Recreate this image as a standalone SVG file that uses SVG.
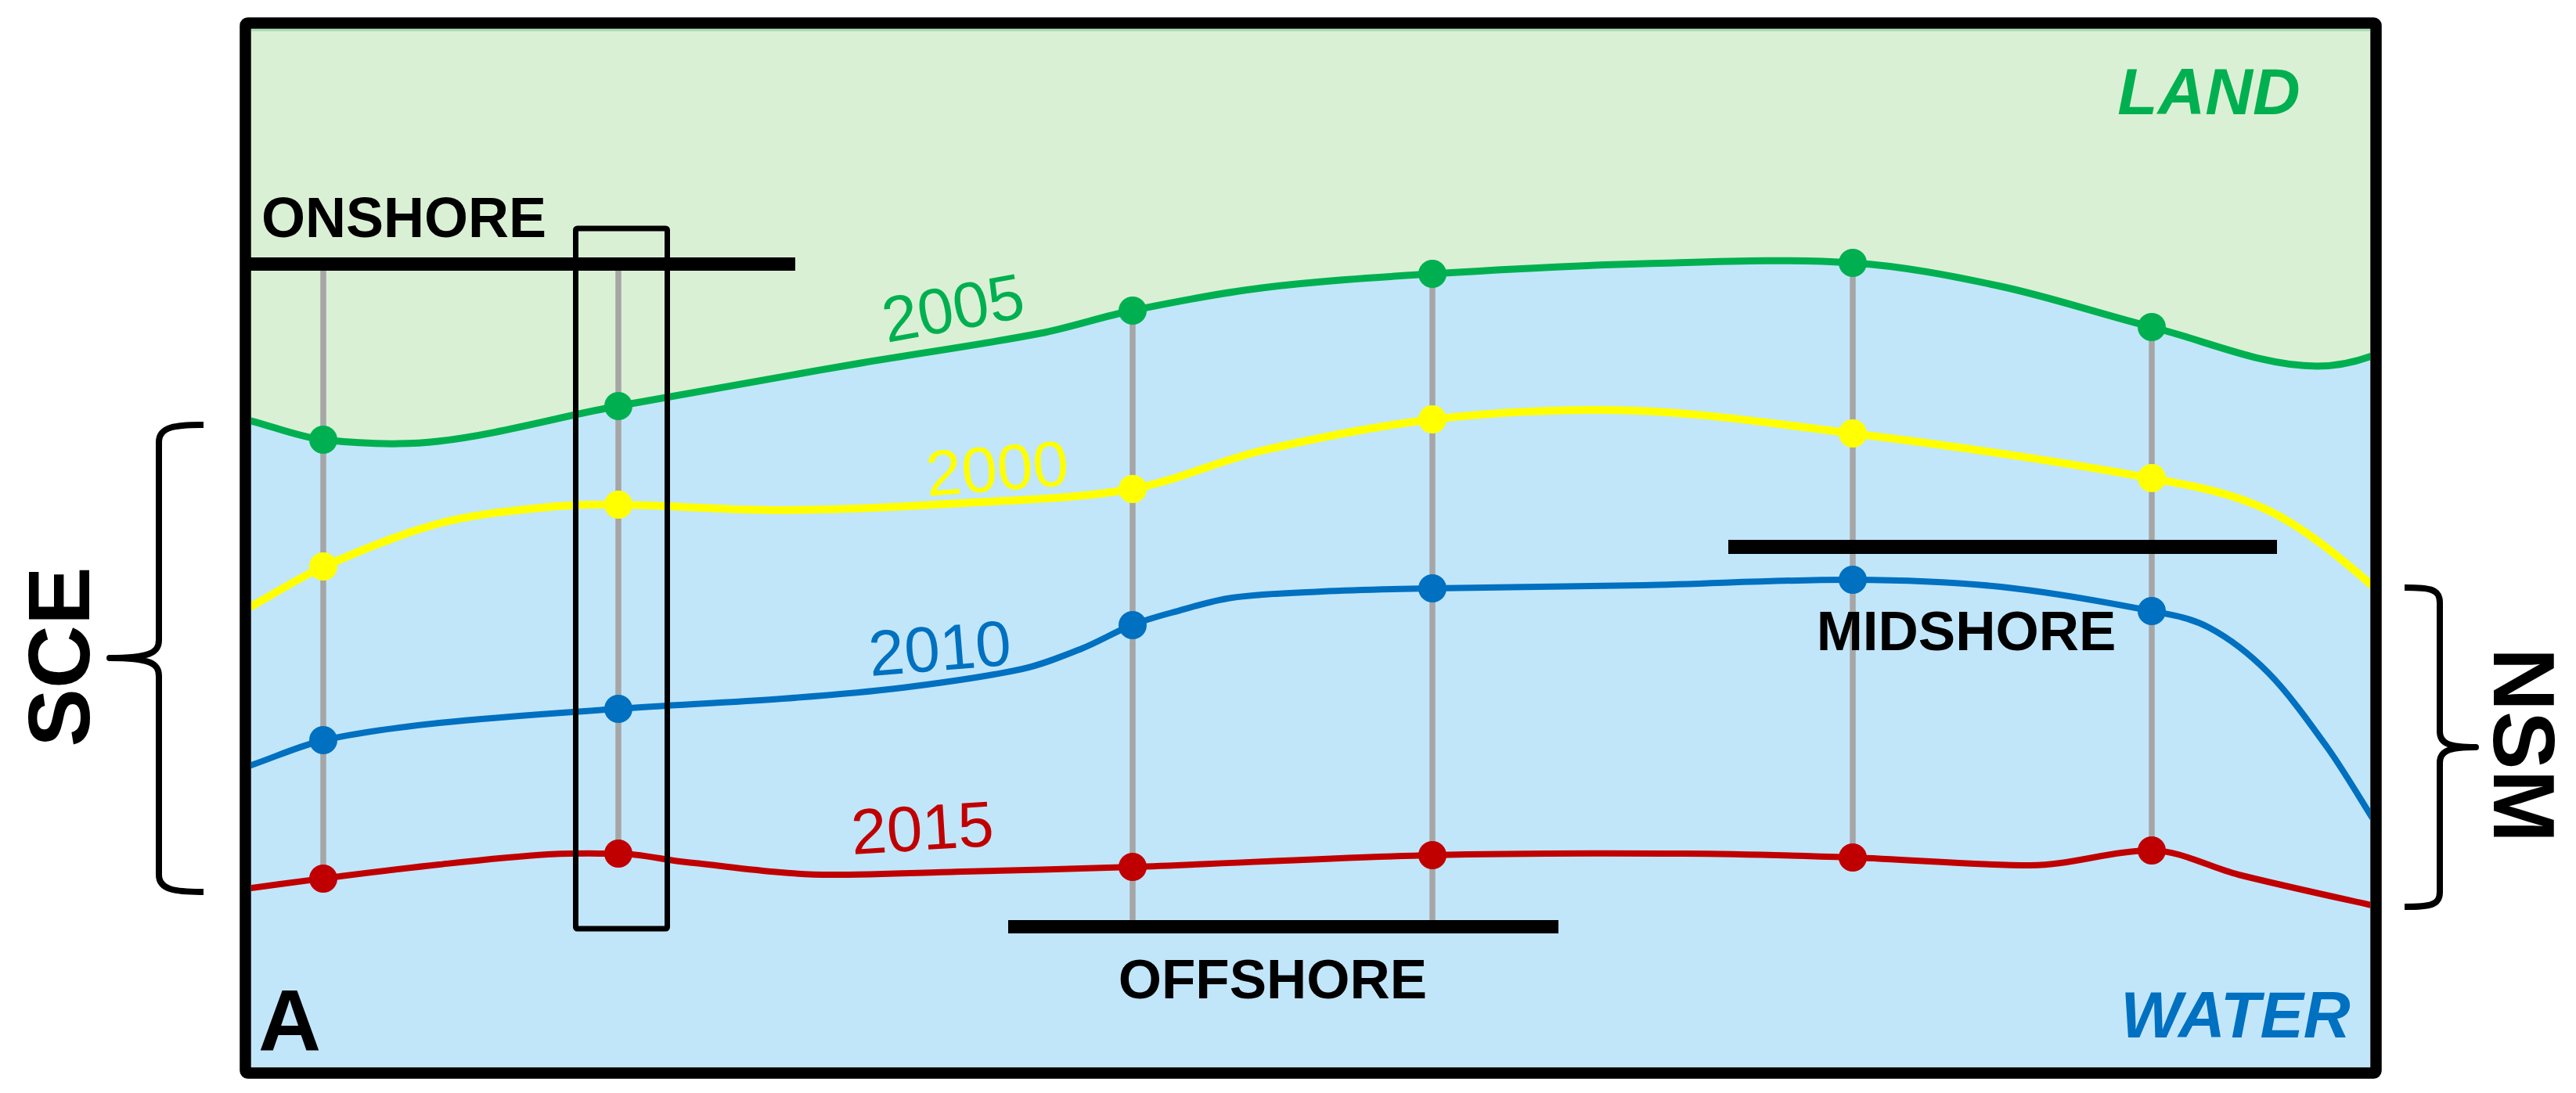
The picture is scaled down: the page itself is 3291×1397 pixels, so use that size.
<svg xmlns="http://www.w3.org/2000/svg" width="3291" height="1397" viewBox="0 0 3291 1397">
<style>
.lbl{font-family:"Liberation Sans",Arial,sans-serif;font-weight:bold;fill:#000}
.yr{font-family:"Liberation Sans",Arial,sans-serif;font-size:82px}
.curve{fill:none;stroke-linecap:round;stroke-linejoin:round}
.grey{stroke:#A6A6A6;stroke-width:7.5;fill:none}
.brace{fill:none;stroke:#000;stroke-width:8;stroke-linecap:butt;stroke-linejoin:round}
.g{fill:#00B050}.y{fill:#FFFF00}.b{fill:#0070C0}.r{fill:#C00000}
</style>
<defs>
<clipPath id="inner"><rect x="321" y="37" width="2707" height="1327"/></clipPath>
</defs>
<rect width="3291" height="1397" fill="#FFFFFF"/>
<g id="background" clip-path="url(#inner)">
<rect x="306" y="22" width="2736" height="1357" fill="#C1E6FA"/>
<path id="land" fill="#DAF0D5" d="M321,538 C351.7,546 382.3,558.7 413,562 C462,567.3 511,569.6 560,564 C636.3,555.3 712.7,533.1 789,519 C892.7,499.8 996.3,481.8 1100,464 C1176.3,450.9 1252.7,440.8 1329,426 C1368,418.4 1407,405 1446,397 C1501.3,385.7 1556.7,374.7 1612,368 C1684.7,359.1 1757.3,354.6 1830,350 C1920,344.3 2010,339.3 2100,337 C2189,334.7 2278,330.3 2367,336 C2430,340 2493,352.5 2556,366 C2620.3,379.8 2684.7,401.8 2749,418 C2819.3,435.7 2889.7,468 2960,468 C2982.7,468 3005.3,464.1 3030,455 L3030,30 L321,30 Z"/>
<line x1="321" y1="38.5" x2="3028" y2="38.5" stroke="#A8DFB5" stroke-width="3"/>
</g>
<g id="connectors" clip-path="url(#inner)">
<g id="transects">
<line class="grey" x1="413" y1="346" x2="413" y2="1123"/>
<line class="grey" x1="790" y1="346" x2="790" y2="1091"/>
<line class="grey" x1="1447" y1="397" x2="1447" y2="1177"/>
<line class="grey" x1="1830" y1="350" x2="1830" y2="1177"/>
<line class="grey" x1="2367" y1="336" x2="2367" y2="1096"/>
<line class="grey" x1="2749" y1="418" x2="2749" y2="1087"/>
</g>
<path id="line2005" class="curve" stroke="#00B050" stroke-width="9" d="M321,538 C351.7,546 382.3,558.7 413,562 C462,567.3 511,569.6 560,564 C636.3,555.3 712.7,533.1 789,519 C892.7,499.8 996.3,481.8 1100,464 C1176.3,450.9 1252.7,440.8 1329,426 C1368,418.4 1407,405 1446,397 C1501.3,385.7 1556.7,374.7 1612,368 C1684.7,359.1 1757.3,354.6 1830,350 C1920,344.3 2010,339.3 2100,337 C2189,334.7 2278,330.3 2367,336 C2430,340 2493,352.5 2556,366 C2620.3,379.8 2684.7,401.8 2749,418 C2819.3,435.7 2889.7,468 2960,468 C2982.7,468 3005.3,464.1 3030,455"/>
<path id="line2000" class="curve" stroke="#FFFF00" stroke-width="10" d="M321,775 C352,758 383,737.7 414,724 C463,702.3 512,682 561,669 C607.7,656.6 654.3,652.9 701,648 C730.3,644.9 759.7,644.6 789,645 C859.3,645.9 929.7,652.3 1000,652 C1076.7,651.7 1153.3,647.6 1230,643 C1302,638.6 1374,637.6 1446,625 C1501.3,615.3 1556.7,588.8 1612,576 C1684.7,559.1 1757.3,544.6 1830,536 C1902.7,527.4 1975.3,524 2048,524 C2154.3,524 2260.7,540.8 2367,554 C2493.7,569.7 2620.3,587.6 2747,611 C2797,620.3 2847,628.1 2897,652 C2940.7,672.8 2984.3,707.9 3030,748"/>
<path id="line2010" class="curve" stroke="#0070C0" stroke-width="8" d="M321,978 C352,967.3 383,953 414,946 C463,935 512,929.2 561,924 C637,915.9 713,911.4 789,906 C859.3,901 929.7,898.2 1000,893 C1051,889.2 1102,885.3 1153,879 C1204,872.7 1255,866.1 1306,855 C1331.3,849.5 1356.7,839.1 1382,829 C1403.3,820.5 1424.7,807.5 1446,799 C1463,792.2 1480,787.6 1497,783 C1522.7,776 1548.3,767.6 1574,764 C1612.3,758.6 1650.7,757.8 1689,756 C1736,753.8 1783,752.9 1830,752 C1920,750.2 2010,749.8 2100,748 C2189,746.2 2278,740.6 2367,741 C2430,741.3 2493,743.4 2556,750 C2620.3,756.8 2684.7,768.5 2749,781 C2773.3,785.7 2797.7,789.1 2822,802 C2847.3,815.4 2872.7,834.4 2898,860 C2923,885.3 2948,920.2 2973,955 C2991.3,980.4 3009.7,1011.7 3030,1044"/>
<path id="line2015" class="curve" stroke="#C00000" stroke-width="8" d="M321,1135 C352,1130.9 383,1126.5 414,1122.6 C463,1116.5 512,1110.2 561,1105 C607.3,1100 653.7,1094.8 700,1092 C729.7,1090.2 759.3,1091 789,1091 C818.3,1091 847.7,1099.1 877,1102 C938.3,1108.1 999.7,1118 1061,1118 C1117.3,1118 1173.7,1115.5 1230,1114 C1302.7,1112.1 1375.3,1110.5 1448,1108 C1575.3,1103.5 1702.7,1096.1 1830,1093 C1936.7,1090.4 2043.3,1090.4 2150,1091 C2222.3,1091.4 2294.7,1093.5 2367,1096 C2442.7,1098.6 2518.3,1106 2594,1106 C2645.7,1106 2697.3,1087 2749,1087 C2786,1087 2823,1108.7 2860,1118 C2916,1132 2972,1144.1 3030,1157"/>
</g>
<g id="dots2005" class="g">
<circle cx="413" cy="562" r="18"/><circle cx="790" cy="519" r="18"/><circle cx="1447" cy="397" r="18"/>
<circle cx="1830" cy="350" r="18"/><circle cx="2367" cy="336" r="18"/><circle cx="2749" cy="418" r="18"/>
</g>
<g id="dots2000" class="y">
<circle cx="413" cy="724" r="18"/><circle cx="790" cy="645" r="18"/><circle cx="1447" cy="625" r="18"/>
<circle cx="1830" cy="536" r="18"/><circle cx="2367" cy="554" r="18"/><circle cx="2749" cy="611" r="18"/>
</g>
<g id="dots2010" class="b">
<circle cx="413" cy="946" r="18"/><circle cx="790" cy="906" r="18"/><circle cx="1447" cy="799" r="18"/>
<circle cx="1830" cy="752" r="18"/><circle cx="2367" cy="741" r="18"/><circle cx="2749" cy="781" r="18"/>
</g>
<g id="dots2015" class="r">
<circle cx="413" cy="1123" r="18"/><circle cx="790" cy="1091" r="18"/><circle cx="1447" cy="1108" r="18"/>
<circle cx="1830" cy="1093" r="18"/><circle cx="2367" cy="1096" r="18"/><circle cx="2749" cy="1087" r="18"/>
</g>
<g id="onshore">
<rect x="319" y="329" width="697" height="17" fill="#000"/>
<text class="lbl" x="334" y="303" font-size="72">ONSHORE</text>
</g>
<g id="midshore">
<rect x="2208" y="690" width="701" height="18" fill="#000"/>
<text class="lbl" x="2512" y="831" font-size="71" text-anchor="middle">MIDSHORE</text>
</g>
<g id="offshore">
<rect x="1288" y="1176" width="703" height="17" fill="#000"/>
<text class="lbl" x="1626" y="1276" font-size="71" text-anchor="middle">OFFSHORE</text>
</g>
<g id="transect-box">
<rect x="735.5" y="292" width="117" height="895" rx="2" fill="none" stroke="#000" stroke-width="7"/>
</g>
<g id="year-labels">
<text class="yr g" transform="translate(1133,438) rotate(-10.5)">2005</text>
<text class="yr y" transform="translate(1185,634) rotate(-4.5)">2000</text>
<text class="yr b" transform="translate(1112,864) rotate(-4.6)">2010</text>
<text class="yr r" transform="translate(1089,1092) rotate(-3.6)">2015</text>
</g>
<g id="region-labels">
<text class="lbl" x="2822" y="146" font-size="84" font-style="italic" text-anchor="middle" style="fill:#00B050">LAND</text>
<text class="lbl" x="2856" y="1326" font-size="83" font-style="italic" text-anchor="middle" style="fill:#0070C0">WATER</text>
<text class="lbl" x="330" y="1343" font-size="111">A</text>
</g>
<g id="frame">
<rect x="313.5" y="29.5" width="2722" height="1342" rx="3" fill="none" stroke="#000" stroke-width="14.5"/>
</g>
<g id="sce">
<path class="brace" d="M260,543 C225,543 203,545 203,565 L203,818 C203,834 192,841 140,841 C192,841 203,848 203,864 L203,1118 C203,1138 225,1140 260,1140"/>
<text class="lbl" font-size="112" text-anchor="middle" transform="translate(114,839.5) rotate(-90)">SCE</text>
</g>
<g id="nsm">
<path class="brace" d="M3072,751 C3105,751 3117,753 3117,770 L3117,935 C3117,950 3128,955 3163,955 C3128,955 3117,960 3117,975 L3117,1140 C3117,1157 3105,1159 3072,1159"/>
<text class="lbl" font-size="112" text-anchor="middle" transform="translate(3186,952.5) rotate(90)">NSM</text>
</g>
</svg>
